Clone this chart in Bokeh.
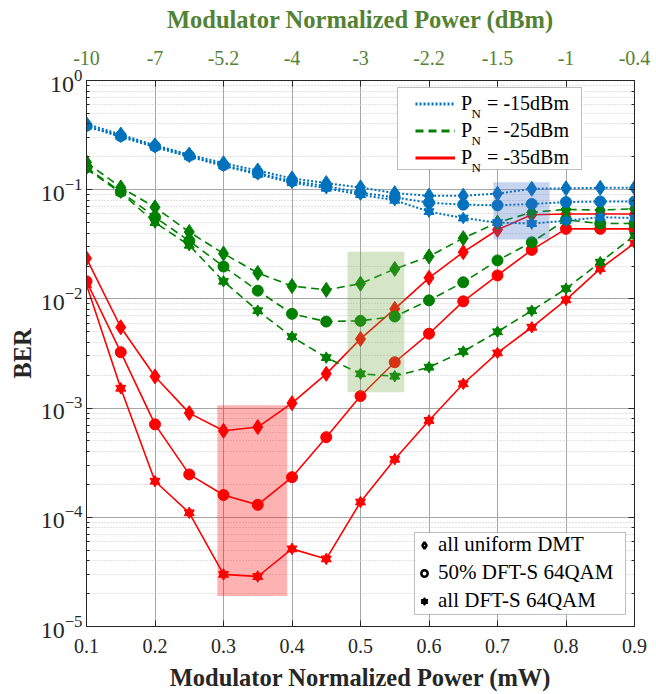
from bokeh.plotting import figure
from bokeh.models import (Range1d, LinearAxis, LogAxis, FixedTicker, LogTicker,
                          Legend, LegendItem, Label, CustomJSTickFormatter, BoxAnnotation)
from bokeh.embed import file_html
from bokeh.resources import INLINE

# ---------------- data ----------------
x_mw = [0.1, 0.15, 0.2, 0.25, 0.3, 0.35, 0.4, 0.45, 0.5, 0.55, 0.6, 0.65, 0.7, 0.75, 0.8, 0.85, 0.9]
x_ticks = [0.1, 0.2, 0.3, 0.4, 0.5, 0.6, 0.7, 0.8, 0.9]
dbm_labels = ["-10", "-7", "-5.2", "-4", "-3", "-2.2", "-1.5", "-1", "-0.4"]

# P_N = -15 dBm
pn15_dmt = [0.40, 0.32, 0.255, 0.21, 0.175, 0.15, 0.127, 0.115, 0.105, 0.093, 0.088, 0.088, 0.092, 0.102, 0.103, 0.104, 0.104]
pn15_half = [0.385, 0.31, 0.25, 0.205, 0.168, 0.142, 0.12, 0.108, 0.094, 0.085, 0.076, 0.073, 0.072, 0.074, 0.077, 0.078, 0.078]
pn15_all = [0.38, 0.305, 0.245, 0.2, 0.165, 0.138, 0.116, 0.103, 0.09, 0.08, 0.063, 0.055, 0.05, 0.049, 0.052, 0.056, 0.055]

# P_N = -25 dBm
pn25_dmt = [0.178, 0.105, 0.069, 0.041, 0.026, 0.0173, 0.0131, 0.0121, 0.0138, 0.0188, 0.0245, 0.036, 0.05, 0.062, 0.066, 0.065, 0.067]
pn25_half = [0.16, 0.096, 0.056, 0.034, 0.0198, 0.0119, 0.0073, 0.0062, 0.0063, 0.0069, 0.0097, 0.0142, 0.0225, 0.033, 0.053, 0.049, 0.049]
pn25_all = [0.155, 0.094, 0.05, 0.031, 0.0145, 0.0078, 0.0045, 0.0029, 0.00206, 0.00196, 0.00237, 0.0033, 0.005, 0.0078, 0.0124, 0.0217, 0.038]

# P_N = -35 dBm
pn35_dmt = [0.0235, 0.0055, 0.00195, 0.0009, 0.00062, 0.00067, 0.00111, 0.00206, 0.0043, 0.0081, 0.0156, 0.0268, 0.043, 0.059, 0.060, 0.060, 0.060]
pn35_half = [0.0145, 0.00325, 0.00071, 0.000247, 0.00016, 0.00013, 0.000233, 0.000542, 0.00129, 0.00263, 0.0048, 0.0095, 0.0164, 0.0281, 0.0438, 0.0438, 0.0438]
pn35_all = [0.0135, 0.00152, 0.000214, 0.00011, 0.00003, 0.0000287, 0.0000514, 0.0000416, 0.000138, 0.00034, 0.00077, 0.00167, 0.0032, 0.0055, 0.0098, 0.0189, 0.0324]

# highlighted regions (mW range, BER range)
box_left = [0.291, 0.481, 0.694]
box_right = [0.393, 0.564, 0.776]
box_bottom = [1.9e-5, 0.0014, 0.035]
box_top = [1.06e-3, 0.027, 0.117]
box_colors = ["#ff0000", "#70ad47", "#4472c4"]

legend_pn = ["-15dBm", "-25dBm", "-35dBm"]
legend_fmt = ["all uniform DMT", "50% DFT-S 64QAM", "all DFT-S 64QAM"]

# ---------------- styles ----------------
FONT = "Liberation Serif"
GREEN_AX = "#548235"
NAN = float("nan")
NBSP = "\u00a0"
series = [
    ("#0072bd", "2 2", 2.0, [pn15_dmt, pn15_half, pn15_all]),
    ("#008000", "8 5", 1.6, [pn25_dmt, pn25_half, pn25_all]),
    ("#ff0000", "solid", 1.6, [pn35_dmt, pn35_half, pn35_all]),
]

p = figure(width=656, height=694, y_axis_type="log",
           x_range=Range1d(0.1, 0.9), y_range=Range1d(1e-5, 1),
           output_backend="svg", toolbar_location=None,
           min_border_left=86, min_border_right=22,
           min_border_top=80, min_border_bottom=68)
p.background_fill_color = "white"
p.border_fill_color = "white"
p.outline_line_color = "#262626"
p.outline_line_width = 1

# grids
p.xgrid.ticker = FixedTicker(ticks=x_ticks)
p.xgrid.grid_line_color = "#a6a6a6"
p.xgrid.grid_line_width = 1
p.ygrid.grid_line_color = "#a6a6a6"
p.ygrid.grid_line_width = 1
p.ygrid.minor_grid_line_color = "#c4c4c4"
p.ygrid.minor_grid_line_dash = "1 2"
p.ygrid.minor_grid_line_width = 1

# axes
xa = p.xaxis[0]
xa.ticker = FixedTicker(ticks=x_ticks)
xa.axis_label = "Modulator Normalized Power (mW)"
ya = p.yaxis[0]
ya.axis_label = "BER"

top = LinearAxis(ticker=FixedTicker(ticks=x_ticks),
                 major_label_overrides={t: l for t, l in zip(x_ticks, dbm_labels)},
                 axis_label="Modulator Normalized Power (dBm)")
p.add_layout(top, "above")
right = LogAxis(ticker=LogTicker(), formatter=CustomJSTickFormatter(code="return ''"))
p.add_layout(right, "right")

for ax in [xa, ya, top, right]:
    ax.axis_line_color = "#262626"
    ax.major_tick_in = 6
    ax.major_tick_out = 0
    ax.minor_tick_in = 3
    ax.minor_tick_out = 0
    ax.major_tick_line_color = "#262626"
    ax.minor_tick_line_color = "#262626"
    ax.major_label_text_font = FONT
    ax.major_label_text_font_size = "20px"
    ax.major_label_text_color = "#262626"
    ax.axis_label_text_font = FONT
    ax.axis_label_text_font_size = "24.5px"
    ax.axis_label_text_font_style = "bold"
    ax.axis_label_text_color = "#262626"

xa.minor_tick_line_color = None
top.minor_tick_line_color = None
ya.major_label_text_font_size = "24px"
xa.major_label_standoff = 12
xa.axis_label_standoff = 8
ya.major_label_standoff = 4
ya.axis_label_standoff = 2
top.major_label_standoff = 16
top.axis_label_standoff = 15
top.major_label_text_color = GREEN_AX
top.axis_label_text_color = GREEN_AX

# data (drawn -35, -25, -15 so that overlaps match the reference)
for color, dash, lw, (dmt, half, allds) in reversed(series):
    for ys in (dmt, half, allds):
        p.line(x_mw, ys, line_color=color, line_dash=dash, line_width=lw)
    p.scatter(x_mw, dmt, marker="diamond", size=15, fill_color=color, line_color=color)
    p.scatter(x_mw, half, marker="circle", size=11, fill_color=color, line_color=color)
    p.scatter(x_mw, allds, marker="triangle", size=10, fill_color=color, line_color=color)
    p.scatter(x_mw, allds, marker="inverted_triangle", size=10, fill_color=color, line_color=color)

# highlighted boxes
p.quad(left=box_left, right=box_right, bottom=box_bottom, top=box_top,
       fill_color=box_colors, fill_alpha=0.3, line_color=None)

# ---------------- legend 1 (noise power) ----------------
p.add_layout(BoxAnnotation(left=0.554, right=0.8226, top=0.863, bottom=0.153,
                           fill_color="white", fill_alpha=1.0,
                           line_color="#262626", line_width=1))
leg1_items = []
for (color, dash, lw, _), pn in zip(series, legend_pn):
    r = p.line([NAN, NAN], [NAN, NAN], line_color=color, line_dash=dash, line_width=3)
    leg1_items.append(LegendItem(label="P" + NBSP * 3 + "= " + pn, renderers=[r]))
leg1 = Legend(items=leg1_items, location=(329, 457), glyph_width=40, glyph_height=23,
              label_height=23, label_standoff=6, padding=14, spacing=4, margin=0,
              label_text_font=FONT, label_text_font_size="20px",
              label_text_color="#000000",
              border_line_color=None, background_fill_alpha=0.0)
p.add_layout(leg1)

for yb in (513, 486, 459):
    p.add_layout(Label(x=385, y=yb, x_units="screen", y_units="screen",
                       text="N", text_font=FONT, text_font_size="13px",
                       text_color="#000000", text_baseline="alphabetic"))

# ---------------- legend 2 (marker types) ----------------
p.add_layout(BoxAnnotation(left=0.5788, right=0.8869, top=7.26e-5, bottom=1.29e-5,
                           fill_color="white", fill_alpha=1.0,
                           line_color="#262626", line_width=1))
mk = dict(fill_color="white", line_color="black", line_width=2.5)
r_d = p.scatter([NAN], [NAN], marker="diamond", size=17, **mk)
r_c = p.scatter([NAN], [NAN], marker="circle", size=12, **mk)
r_t1 = p.scatter([NAN], [NAN], marker="triangle", size=10, fill_color="black", line_color="black", line_width=1.5)
r_t2 = p.scatter([NAN], [NAN], marker="inverted_triangle", size=10, fill_color="black", line_color="black", line_width=1.5)
leg2 = Legend(items=[LegendItem(label=legend_fmt[0], renderers=[r_d]),
                     LegendItem(label=legend_fmt[1], renderers=[r_c]),
                     LegendItem(label=legend_fmt[2], renderers=[r_t1, r_t2])],
              location=(330, 13), glyph_width=16, glyph_height=24,
              label_height=24, label_standoff=6, padding=6, spacing=3, margin=0,
              label_text_font=FONT, label_text_font_size="21px",
              label_text_color="#000000",
              border_line_color=None, background_fill_alpha=0.0)
p.add_layout(leg2)

open("out.html", "w").write(file_html(p, INLINE))
